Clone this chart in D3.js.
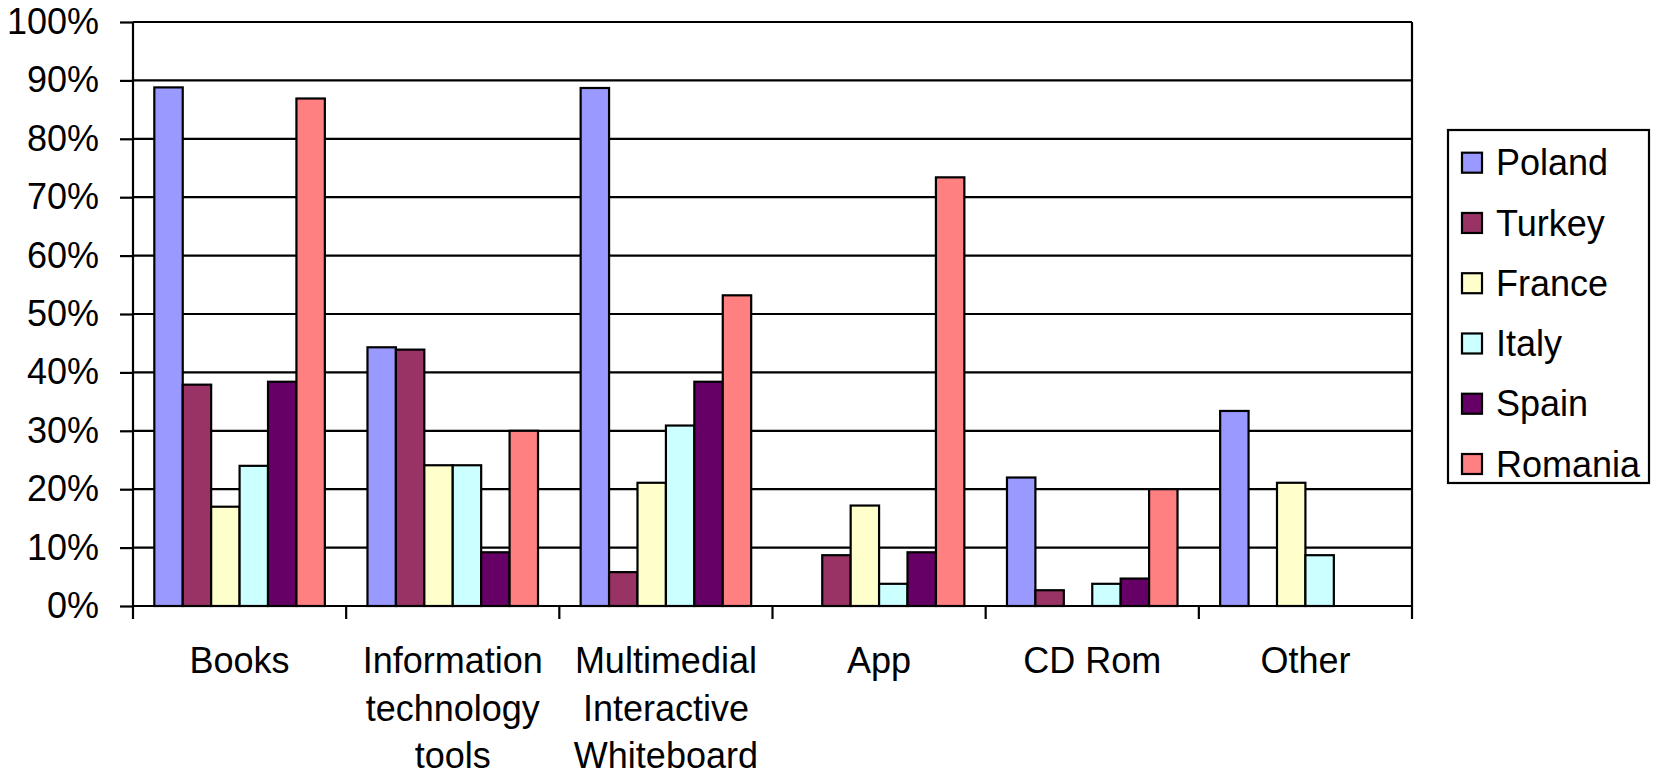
<!DOCTYPE html>
<html>
<head>
<meta charset="utf-8">
<script src="https://cdn.jsdelivr.net/npm/d3@7"></script>
<style>
  html, body { margin: 0; padding: 0; background: #fff; }
  svg { display: block; }
  text { font-family: "Liberation Sans", Arial, sans-serif; fill: #000; }
</style>
</head>
<body>
<svg id="chart" width="1657" height="777"></svg>
<script>
const categories = ["Books", "Information technology tools", "Multimedial Interactive Whiteboard", "App", "CD Rom", "Other"];
const seriesNames = ["Poland", "Turkey", "France", "Italy", "Spain", "Romania"];
const seriesColors = ["#9999FF", "#993366", "#FFFFCC", "#CCFFFF", "#660066", "#FF8080"];
// values per series, in category order (fractions)
const poland  = [0.888, 0.443, 0.887, 0.0,   0.220, 0.334];
const turkey  = [0.379, 0.439, 0.058, 0.087, 0.027, 0.0];
const france  = [0.170, 0.241, 0.211, 0.172, 0.0,   0.211];
const italy   = [0.240, 0.241, 0.309, 0.038, 0.038, 0.087];
const spain   = [0.384, 0.092, 0.384, 0.092, 0.047, 0.0];
const romania = [0.869, 0.300, 0.532, 0.734, 0.200, 0.0];
const seriesValues = [poland, turkey, france, italy, spain, romania];
const yTicks = [0, 0.1, 0.2, 0.3, 0.4, 0.5, 0.6, 0.7, 0.8, 0.9, 1.0];

const svg = d3.select("#chart");
const plot = { left: 133, right: 1412, top: 22, bottom: 606 };
const fontSize = 36;

const x0 = d3.scaleBand().domain(categories).range([plot.left, plot.right]).padding(0);
const x1 = d3.scaleBand().domain(seriesNames).range([0, x0.bandwidth()]).paddingInner(0).paddingOuter(0.75);
const y = d3.scaleLinear().domain([0, 1]).range([plot.bottom, plot.top]);

// gridlines
svg.append("g").selectAll("line").data(yTicks.filter(d => d > 0)).join("line")
  .attr("x1", plot.left).attr("x2", plot.right)
  .attr("y1", d => y(d)).attr("y2", d => y(d))
  .attr("stroke", "#000").attr("stroke-width", 2.2);

// right border of plot area
svg.append("line")
  .attr("x1", plot.right).attr("x2", plot.right)
  .attr("y1", plot.top).attr("y2", plot.bottom)
  .attr("stroke", "#000").attr("stroke-width", 2.2);

// bars
const bars = [];
categories.forEach((c, ci) => {
  seriesNames.forEach((s, si) => {
    const v = seriesValues[si][ci];
    if (v > 0) bars.push({ c, s, v, color: seriesColors[si] });
  });
});
svg.append("g").selectAll("rect").data(bars).join("rect")
  .attr("x", d => x0(d.c) + x1(d.s))
  .attr("width", x1.bandwidth())
  .attr("y", d => y(d.v))
  .attr("height", d => y(0) - y(d.v))
  .attr("fill", d => d.color)
  .attr("stroke", "#000").attr("stroke-width", 2.2);

// y axis
const yAxis = d3.axisLeft(y).tickValues(yTicks).tickFormat(d3.format(".0%")).tickSize(13).tickPadding(21);
const gy = svg.append("g").attr("transform", `translate(${plot.left},0)`).call(yAxis);
gy.select(".domain").attr("stroke", "#000").attr("stroke-width", 2.2).attr("d", `M0,${plot.top}V${plot.bottom}`);
gy.selectAll(".tick line").attr("stroke", "#000").attr("stroke-width", 2.2);
gy.selectAll(".tick text").attr("font-size", fontSize).attr("font-family", '"Liberation Sans", Arial, sans-serif').attr("fill", "#000");

// x axis
const xAxis = d3.axisBottom(x0).tickValues([]).tickSize(0);
const gx = svg.append("g").attr("transform", `translate(0,${plot.bottom})`).call(xAxis);
gx.select(".domain").attr("stroke", "#000").attr("stroke-width", 2.2).attr("d", `M${plot.left},0H${plot.right}`);
// category boundary ticks
const boundaries = categories.map(c => x0(c)).concat([plot.right]);
gx.selectAll("line.bt").data(boundaries).join("line").attr("class", "bt")
  .attr("x1", d => d).attr("x2", d => d).attr("y1", 0).attr("y2", 13)
  .attr("stroke", "#000").attr("stroke-width", 2.2);

// category labels with word wrap
const labelG = svg.append("g");
const lineH = 47.5;
const maxW = x0.bandwidth() - 6;
categories.forEach(c => {
  const t = labelG.append("text")
    .attr("x", x0(c) + x0.bandwidth() / 2)
    .attr("y", 673)
    .attr("text-anchor", "middle")
    .attr("font-size", fontSize);
  const words = c.split(" ");
  let lines = [];
  let cur = [];
  const probe = labelG.append("text").attr("font-size", fontSize);
  words.forEach(w => {
    const test = cur.concat([w]).join(" ");
    probe.text(test);
    if (probe.node().getComputedTextLength() > maxW && cur.length) {
      lines.push(cur.join(" "));
      cur = [w];
    } else {
      cur.push(w);
    }
  });
  if (cur.length) lines.push(cur.join(" "));
  probe.remove();
  lines.forEach((ln, i) => {
    t.append("tspan").attr("x", x0(c) + x0.bandwidth() / 2).attr("dy", i === 0 ? 0 : lineH).text(ln);
  });
});

// legend
const legend = svg.append("g");
legend.append("rect")
  .attr("x", 1448).attr("y", 130).attr("width", 201).attr("height", 353)
  .attr("fill", "#fff").attr("stroke", "#000").attr("stroke-width", 2.2);
const legY = d3.scalePoint().domain(seriesNames).range([162.7, 464]);
const items = legend.selectAll("g.item").data(seriesNames).join("g").attr("class", "item")
  .attr("transform", d => `translate(0,${legY(d)})`);
items.append("rect")
  .attr("x", 1462).attr("y", -10).attr("width", 20).attr("height", 20)
  .attr("fill", (d, i) => seriesColors[i]).attr("stroke", "#000").attr("stroke-width", 2.2);
items.append("text")
  .attr("x", 1496).attr("y", 0).attr("dy", "0.35em")
  .attr("font-size", fontSize).text(d => d);
</script>
</body>
</html>
